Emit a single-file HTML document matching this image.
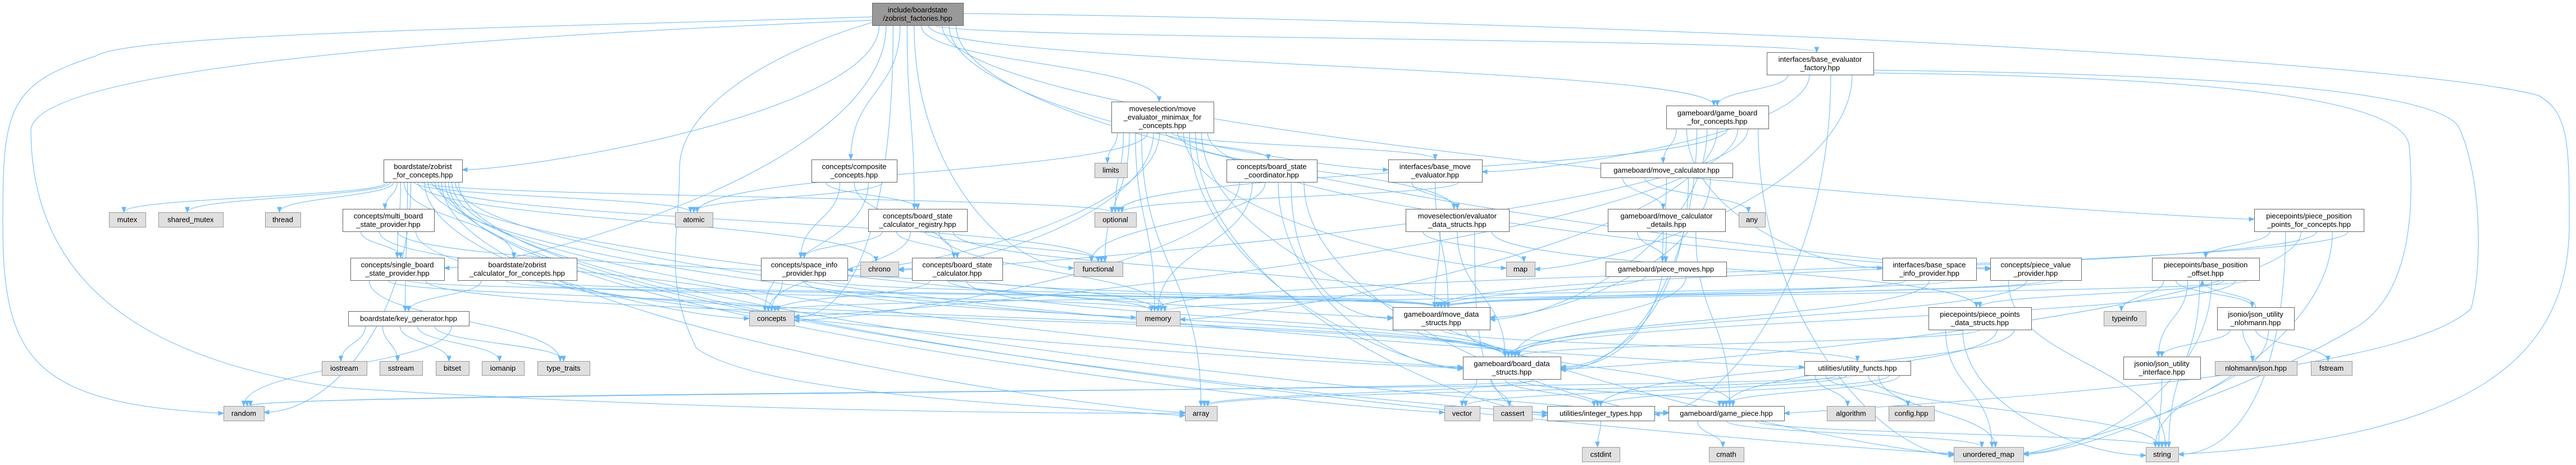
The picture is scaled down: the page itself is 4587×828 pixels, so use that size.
<!DOCTYPE html>
<html><head><meta charset="utf-8"><style>
html,body{margin:0;padding:0;background:#fff;}
svg{display:block;}
text{font-family:"Liberation Sans",sans-serif;font-size:13px;fill:#000;}
</style></head><body>
<svg id="g" width="4587" height="828" viewBox="0 0 4587 828" xmlns="http://www.w3.org/2000/svg">
<g id="edges" fill="none" stroke="#63b8ff" stroke-width="1"></g>
<g id="arrows" fill="#63b8ff" stroke="#63b8ff"></g>
<g id="nodes"></g>
</svg>
<script>
var N={
main:[1553,1715,5,45,'m',['include/boardstate','/zobrist_factories.hpp']],
zfc:[683,823,284,324,'w',['boardstate/zobrist','_for_concepts.hpp']],
mutex:[194,259,378,404,'g',['mutex']],
smutex:[282,397,378,404,'g',['shared_mutex']],
thread:[472,535,378,404,'g',['thread']],
multi:[610,773,372,412,'w',['concepts/multi_board','_state_provider.hpp']],
single:[624,791,459,499,'w',['concepts/single_board','_state_provider.hpp']],
zcfc:[815,1027,459,499,'w',['boardstate/zobrist','_calculator_for_concepts.hpp']],
keygen:[620,835,554,580,'w',['boardstate/key_generator.hpp']],
iostream:[573,653,643,668,'g',['iostream']],
sstream:[676,752,643,668,'g',['sstream']],
bitset:[776,835,643,668,'g',['bitset']],
iomanip:[858,933,643,668,'g',['iomanip']],
typetraits:[957,1050,643,668,'g',['type_traits']],
random:[398,470,723,749,'g',['random']],
minimax:[1979,2161,181,236,'w',['moveselection/move','_evaluator_minimax_for','_concepts.hpp']],
composite:[1445,1597,284,324,'w',['concepts/composite','_concepts.hpp']],
limits:[1949,2007,290,316,'g',['limits']],
coord:[2184,2345,284,324,'w',['concepts/board_state','_coordinator.hpp']],
atomic:[1202,1269,378,404,'g',['atomic']],
registry:[1546,1722,372,412,'w',['concepts/board_state','_calculator_registry.hpp']],
optional:[1949,2023,378,404,'g',['optional']],
spaceinfo:[1355,1509,459,499,'w',['concepts/space_info','_provider.hpp']],
chrono:[1532,1600,466,492,'g',['chrono']],
bsc:[1624,1785,459,499,'w',['concepts/board_state','_calculator.hpp']],
functional:[1912,1999,466,492,'g',['functional']],
concepts:[1334,1414,554,580,'g',['concepts']],
memory:[2023,2101,554,580,'g',['memory']],
array:[2110,2167,723,749,'g',['array']],
factory:[3146,3336,93,133,'w',['interfaces/base_evaluator','_factory.hpp']],
gbfc:[2967,3149,188,229,'w',['gameboard/game_board','_for_concepts.hpp']],
bme:[2472,2639,284,324,'w',['interfaces/base_move','_evaluator.hpp']],
movecalc:[2850,3085,290,316,'w',['gameboard/move_calculator.hpp']],
evds:[2503,2687,372,412,'w',['moveselection/evaluator','_data_structs.hpp']],
details:[2863,3072,372,412,'w',['gameboard/move_calculator','_details.hpp']],
any:[3096,3143,378,404,'g',['any']],
map:[2682,2733,466,492,'g',['map']],
piecemoves:[2859,3074,466,492,'w',['gameboard/piece_moves.hpp']],
bsip:[3352,3519,459,499,'w',['interfaces/base_space','_info_provider.hpp']],
mds:[2480,2653,547,587,'w',['gameboard/move_data','_structs.hpp']],
bds:[2605,2779,635,675,'w',['gameboard/board_data','_structs.hpp']],
util:[3213,3402,643,668,'w',['utilities/utility_functs.hpp']],
vector:[2572,2635,723,749,'g',['vector']],
cassert:[2659,2728,723,749,'g',['cassert']],
inttypes:[2755,2946,723,749,'w',['utilities/integer_types.hpp']],
gamepiece:[2971,3177,723,749,'w',['gameboard/game_piece.hpp']],
algorithm:[3253,3339,723,749,'g',['algorithm']],
config:[3363,3444,723,749,'g',['config.hpp']],
cstdint:[2817,2884,796,822,'g',['cstdint']],
cmath:[3043,3105,796,822,'g',['cmath']],
ppds:[3434,3617,547,587,'w',['piecepoints/piece_points','_data_structs.hpp']],
pppfc:[4014,4209,372,412,'w',['piecepoints/piece_position','_points_for_concepts.hpp']],
pvp:[3544,3706,459,499,'w',['concepts/piece_value','_provider.hpp']],
bpo:[3832,4023,459,499,'w',['piecepoints/base_position','_offset.hpp']],
typeinfo:[3746,3821,554,580,'g',['typeinfo']],
jnl:[3948,4085,547,587,'w',['jsonio/json_utility','_nlohmann.hpp']],
jint:[3781,3918,635,675,'w',['jsonio/json_utility','_interface.hpp']],
nlohmann:[3944,4090,643,668,'g',['nlohmann/json.hpp']],
fstream:[4115,4188,643,668,'g',['fstream']],
umap:[3479,3603,796,822,'g',['unordered_map']],
string:[3821,3879,796,822,'g',['string']]
};
var E={
main:['zfc','single','concepts','composite','registry','functional','minimax','gbfc','factory','pppfc','bme','pvp'],
zfc:['mutex','smutex','thread','multi','single','zcfc','keygen','random','atomic','chrono','optional','concepts','memory','functional','mds','bds','array','inttypes','vector','gamepiece','util','umap'],
multi:['single','concepts','memory','bds'],
single:['typetraits','concepts','mds','bds'],
zcfc:['keygen','memory','mds','bds'],
keygen:['iostream','sstream','bitset','iomanip','typetraits','random'],
composite:['registry','spaceinfo','bsc','concepts','atomic'],
registry:['spaceinfo','bsc','concepts','functional','memory','mds'],
spaceinfo:['concepts','bds','mds'],
bsc:['concepts','memory','bds','mds'],
minimax:['limits','optional','functional','memory','array','atomic','chrono','spaceinfo','coord','bme','evds','map','bds','inttypes','umap','pvp'],
coord:['concepts','memory','functional','bds','mds','gamepiece'],
factory:['gbfc','bme','inttypes','map'],
gbfc:['movecalc','bsip','bds','mds','memory','optional','concepts','chrono','umap'],
bme:['evds','mds','optional'],
evds:['map','mds','bds','inttypes','ppds'],
movecalc:['details','any','piecemoves','bds','mds'],
details:['piecemoves','bds','gamepiece'],
piecemoves:['mds','bds'],
bsip:['mds','bds','concepts'],
mds:['bds','util','gamepiece'],
bds:['vector','cassert','inttypes','gamepiece','array','random'],
util:['algorithm','config','array','vector','random','string','umap','inttypes','gamepiece'],
inttypes:['cstdint'],
gamepiece:['cmath','umap','string'],
pvp:['string','bds','mds','memory'],
bpo:['typeinfo','jnl','jint','string','umap','ppds','bds','mds'],
jnl:['jint','nlohmann','fstream','string','bpo'],
jint:['string'],
pppfc:['bpo','string','bds','mds','umap','memory'],
ppds:['umap','string','bds','gamepiece','inttypes']
};
var CUSTOM=[
['M1553,30 C900,50 230,60 170,100 C10,150 5,200 5,400 C5,640 60,720 398,736',300,734,398,736],
['M1553,36 C700,70 70,130 55,230 C55,500 250,640 600,690 C1200,730 1800,736 2110,736',1990,736,2110,736],
['M1715,24 C3000,40 4300,110 4520,170 C4575,200 4575,260 4575,400 C4575,640 4400,780 3879,809',4000,805,3879,809],
['M3336,125 C3800,130 4350,150 4380,230 C4420,320 4420,480 4400,550 C4300,640 3900,690 3177,736',3300,730,3177,736],
['M3336,130 C3800,135 4280,160 4290,260 C4300,380 4290,520 4200,580 C4000,700 3700,790 3603,809',3660,800,3603,809],
['M1553,40 C1350,100 1210,200 1210,300 C1210,420 1180,500 1240,620 C1350,700 1800,720 2110,740',2000,738,2110,740]
];
var NS='http://www.w3.org/2000/svg';
function el(t,a,p){var e=document.createElementNS(NS,t);for(var k in a)e.setAttribute(k,a[k]);p.appendChild(e);return e;}
var ge=document.getElementById('edges'),ga=document.getElementById('arrows'),gn=document.getElementById('nodes');
function arrow(x,y,dx,dy){var l=Math.sqrt(dx*dx+dy*dy)||1;dx/=l;dy/=l;var L=9,W=3.5;
var bx=x-dx*L,by=y-dy*L;el('polygon',{points:x+','+y+' '+(bx-dy*W)+','+(by+dx*W)+' '+(bx+dy*W)+','+(by-dx*W)},ga);}
CUSTOM.forEach(function(c){el('path',{d:c[0]},ge);arrow(c[3],c[4],c[3]-c[1],c[4]-c[2]);});
var cnt={};
for(var s in E){var a=N[s];E[s].forEach(function(t,i){var b=N[t];if(!b)return;
var acx=(a[0]+a[1])/2,bcx=(b[0]+b[1])/2;var sx,sy,tx,ty,c1x,c1y,c2x,c2y;
cnt[t]=(cnt[t]||0)+1;var off=((cnt[t]%5)-2)*6;
if(b[2]>a[3]+5){
 var n=E[s].length;sx=a[0]+(a[1]-a[0])*(i+1)/(n+1);sy=a[3];
 if(b[2]-a[3]>150 && Math.abs(bcx-acx)>250){
   if(bcx>acx){tx=b[0];}else{tx=b[1];} ty=(b[2]+b[3])/2+off*0.3;
   c1x=sx;c1y=sy+(ty-sy)*0.6;c2x=tx+(bcx>acx?-120:120);c2y=ty;
 } else {tx=bcx+off;ty=b[2];var m=(sy+ty)/2;c1x=sx;c1y=m;c2x=tx;c2y=m;}
}else if(b[3]<a[2]-5){
 sx=acx;sy=a[2];tx=bcx+off;ty=b[3];var m2=(sy+ty)/2;c1x=sx;c1y=m2;c2x=tx;c2y=m2;
}else{
 if(bcx>acx){sx=a[1];tx=b[0];}else{sx=a[0];tx=b[1];}
 sy=(a[2]+a[3])/2;ty=(b[2]+b[3])/2;c1x=(sx+tx)/2;c1y=sy;c2x=(sx+tx)/2;c2y=ty;
}
el('path',{d:'M'+sx+','+sy+' C'+c1x+','+c1y+' '+c2x+','+c2y+' '+tx+','+ty},ge);
arrow(tx,ty,tx-c2x,ty-c2y);
});}
for(var k in N){var n=N[k];var f=n[4]=='m'?'#999999':(n[4]=='g'?'#e0e0e0':'#ffffff');var st=n[4]=='g'?'#999999':'#666666';
el('rect',{x:n[0]+0.5,y:n[2]+0.5,width:n[1]-n[0],height:n[3]-n[2],fill:f,stroke:st,'stroke-width':1},gn);
var L=n[5],cx=(n[0]+n[1])/2,cy=(n[2]+n[3])/2,lh=15;
L.forEach(function(s,i){var t=el('text',{x:cx,y:cy+(i-(L.length-1)/2)*lh+4.5,'text-anchor':'middle'},gn);t.textContent=s;});}
</script>
</body></html>
